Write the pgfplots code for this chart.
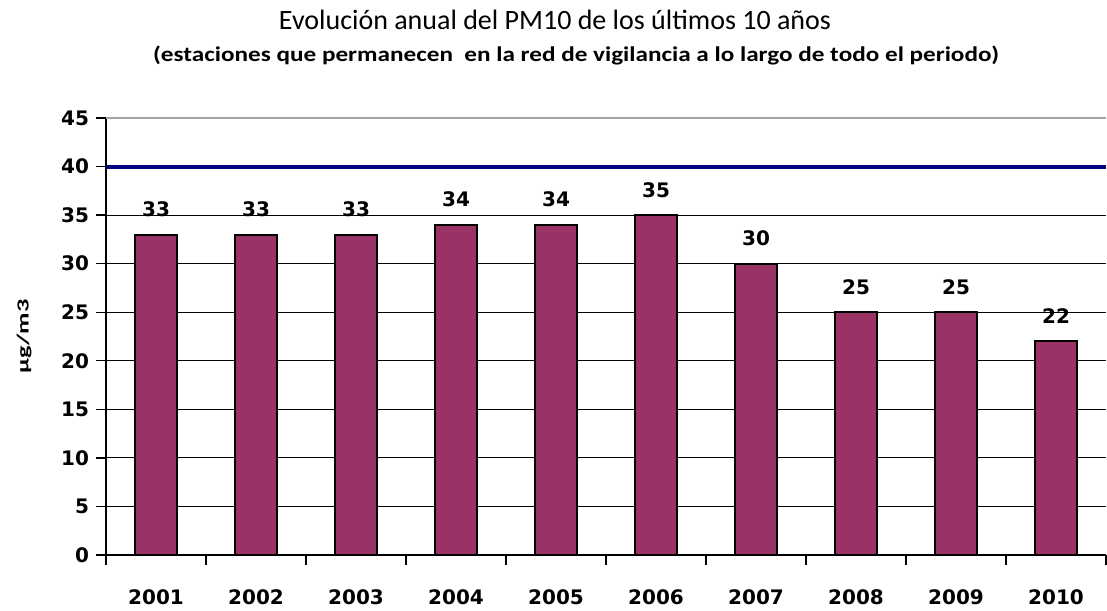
\documentclass[border=0pt]{standalone}
\usepackage{pgfplots}
\pgfplotsset{compat=1.18}
\usepackage{fontspec}
\setmainfont{DejaVu Sans}
\newfontfamily\titlefont{Carlito}
\newfontfamily\subfont[FakeStretch=1.2]{Carlito}
\newfontfamily\labelfont[FakeStretch=1.55]{Carlito}
\definecolor{barplum}{HTML}{993366}
\definecolor{limitblue}{HTML}{000080}
\begin{document}
\begin{tikzpicture}
\begin{axis}[
    scale only axis,
    width=500pt, height=218.5pt,
    xmin=-0.5, xmax=9.5, ymin=0, ymax=45,
    axis x line*=bottom, axis y line*=left,
    axis line style={black, line width=0.9pt},
    clip=false,
    xtick={-0.5,0.5,...,9.5},
    x tick label as interval,
    xticklabels={2001,2002,2003,2004,2005,2006,2007,2008,2009,2010},
    ytick={0,5,...,40},
    extra y ticks={45},
    extra y tick style={grid style={color=gray!70, line width=1.2pt}},
    ymajorgrids,
    grid style={black, line width=0.5pt},
    tick align=outside,
    major tick length=5pt,
    tick style={black, line width=0.7pt},
    /pgf/number format/assume math mode=true,
    ticklabel style={font=\bfseries\fontsize{10}{12}\selectfont},
    xticklabel style={yshift=-9pt},
    ylabel={µg/m3},
    every axis y label/.style={at={(rel axis cs:0,0.5)}, xshift=-41pt,
        rotate=90, anchor=center, font=\labelfont\bfseries\fontsize{8.5}{10}\selectfont},
]
\addplot[ybar, bar width=21pt, fill=barplum, draw=black, line width=1pt,
    nodes near coords,
    every node near coord/.append style={font=\bfseries\fontsize{10}{12}\selectfont, yshift=5pt}]
    coordinates {(0,33) (1,33) (2,33) (3,34) (4,34) (5,35) (6,30) (7,25) (8,25) (9,22)};
\addplot[limitblue, line width=2pt] coordinates {(-0.5,40) (9.5,40)};
\coordinate (bl) at (rel axis cs:0,0);
\coordinate (tr) at (rel axis cs:1,1);
\node[font=\titlefont\fontsize{14}{16}\selectfont] at ([yshift=49pt]rel axis cs:0.449,1) {Evolución anual del PM10 de los últimos 10 años};
\node[font=\subfont\bfseries\fontsize{10.5}{12}\selectfont] at ([yshift=31.5pt]rel axis cs:0.470,1) {(estaciones que permanecen\ \ en la red de vigilancia a lo largo de todo el periodo)};
\end{axis}
\pgfresetboundingbox
\path ([xshift=-53pt,yshift=-27.5pt]bl) rectangle ([xshift=0.5pt,yshift=59pt]tr);
\end{tikzpicture}
\end{document}
